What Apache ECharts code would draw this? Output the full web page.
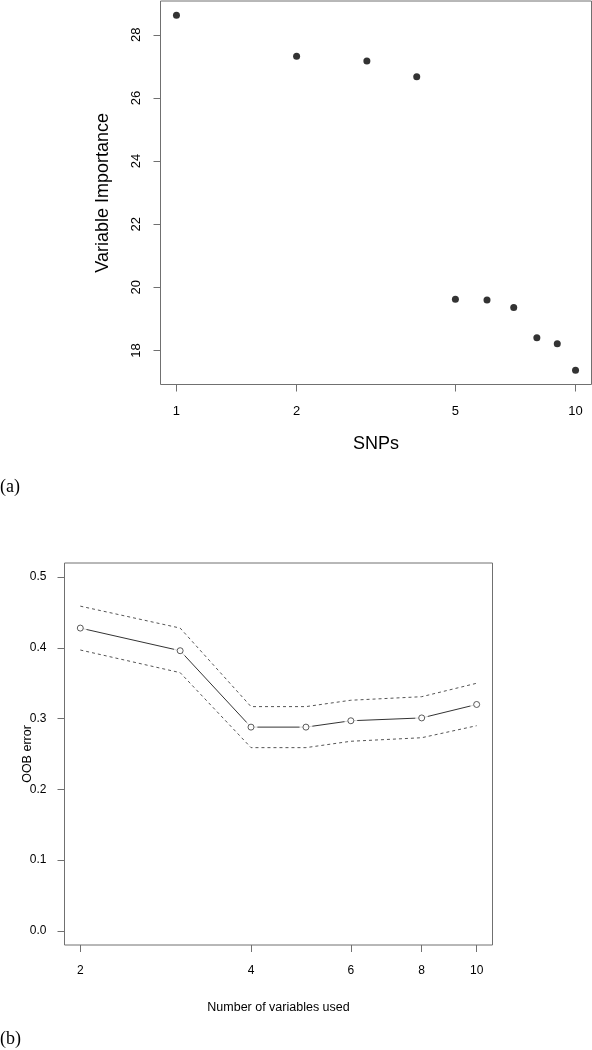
<!DOCTYPE html>
<html>
<head>
<meta charset="utf-8">
<script src="https://cdn.jsdelivr.net/npm/echarts@6/dist/echarts.min.js"></script>
<style>
html,body{margin:0;padding:0;background:#fff;}
#chart{width:592px;height:1050px;}
</style>
</head>
<body>
<div id="chart"></div>
<script>
// ---- Data (a): variable importance of SNPs ----
const snps = [1, 2, 3, 4, 5, 6, 7, 8, 9, 10];
const importance = [28.62, 27.32, 27.17, 26.67, 19.62, 19.60, 19.36, 18.40, 18.21, 17.37];
const snpTicks = [1, 2, 5, 10];
const importanceTicks = [18, 20, 22, 24, 26, 28];

// ---- Data (b): OOB error vs number of variables ----
const nVars = [2, 3, 4, 5, 6, 8, 10];
const oobMean  = [0.428, 0.396, 0.288, 0.288, 0.297, 0.301, 0.320];
const oobUpper = [0.459, 0.428, 0.317, 0.317, 0.326, 0.331, 0.350];
const oobLower = [0.397, 0.365, 0.259, 0.259, 0.268, 0.273, 0.290];
const nVarTicks = [2, 4, 6, 8, 10];
const oobTicks = [0, 0.1, 0.2, 0.3, 0.4, 0.5];

const pairs = (xs, ys) => xs.map((x, i) => [x, ys[i]]);

const FONT = '"Liberation Sans", Arial, Helvetica, sans-serif';
const FRAME = '#707070';

const chart = echarts.init(document.getElementById('chart'), null, {renderer: 'canvas'});

chart.setOption({
  animation: false,
  backgroundColor: '#fff',
  textStyle: {fontFamily: FONT},
  grid: [
    {left: 160.5, top: 1, width: 431, height: 383.5, show: true, borderColor: FRAME, borderWidth: 1, backgroundColor: 'transparent', containLabel: false},
    {left: 64.5, top: 563, width: 428, height: 382, show: true, borderColor: FRAME, borderWidth: 1, backgroundColor: 'transparent', containLabel: false}
  ],
  xAxis: [
    {
      gridIndex: 0, type: 'log', logBase: 10, min: 0.91201, max: 10.9648,
      axisLine: {show: false, onZero: false},
      splitLine: {show: false},
      axisTick: {show: true, customValues: snpTicks, length: 7, lineStyle: {color: FRAME}},
      axisLabel: {customValues: snpTicks, fontSize: 13, margin: 20, color: '#000', fontFamily: FONT},
      name: 'SNPs', nameLocation: 'middle', nameGap: 51, nameMoveOverlap: false,
      nameTextStyle: {fontSize: 18, color: '#000', fontFamily: FONT}
    },
    {
      gridIndex: 1, type: 'log', logBase: 10, min: 1.8757, max: 10.665,
      axisLine: {show: false, onZero: false},
      splitLine: {show: false},
      axisTick: {show: true, customValues: nVarTicks, length: 7, lineStyle: {color: FRAME}},
      axisLabel: {customValues: nVarTicks, fontSize: 12, margin: 20, color: '#000', fontFamily: FONT},
      name: 'Number of variables used', nameLocation: 'middle', nameGap: 56, nameMoveOverlap: false,
      nameTextStyle: {fontSize: 12.5, color: '#000', fontFamily: FONT}
    }
  ],
  yAxis: [
    {
      gridIndex: 0, type: 'value', min: 16.92, max: 29.07,
      axisLine: {show: false, onZero: false},
      splitLine: {show: false},
      axisTick: {show: true, customValues: importanceTicks, length: 7, lineStyle: {color: FRAME}},
      axisLabel: {customValues: importanceTicks, rotate: 90, fontSize: 13, margin: 18, color: '#000', fontFamily: FONT},
      name: 'Variable Importance', nameLocation: 'middle', nameGap: 48, nameMoveOverlap: false,
      nameTextStyle: {fontSize: 18, color: '#000', fontFamily: FONT}
    },
    {
      gridIndex: 1, type: 'value', min: -0.02, max: 0.52,
      axisLine: {show: false, onZero: false},
      splitLine: {show: false},
      axisTick: {show: true, customValues: oobTicks, length: 7, lineStyle: {color: FRAME}},
      axisLabel: {customValues: oobTicks, fontSize: 12, margin: 18, color: '#000', fontFamily: FONT,
                  formatter: v => v.toFixed(1)},
      name: 'OOB error', nameLocation: 'middle', nameGap: 30, nameMoveOverlap: false,
      nameTextStyle: {fontSize: 12.5, color: '#000', fontFamily: FONT}
    }
  ],
  series: [
    {
      type: 'scatter', xAxisIndex: 0, yAxisIndex: 0,
      data: pairs(snps, importance),
      symbol: 'circle', symbolSize: 7,
      itemStyle: {color: '#000'}
    },
    {
      type: 'line', xAxisIndex: 1, yAxisIndex: 1,
      data: pairs(nVars, oobUpper),
      showSymbol: false, symbol: 'none',
      lineStyle: {color: '#555', width: 1, type: [3, 3]}, z: 2
    },
    {
      type: 'line', xAxisIndex: 1, yAxisIndex: 1,
      data: pairs(nVars, oobLower),
      showSymbol: false, symbol: 'none',
      lineStyle: {color: '#555', width: 1, type: [3, 3]}, z: 2
    },
    {
      type: 'line', xAxisIndex: 1, yAxisIndex: 1,
      data: pairs(nVars, oobMean),
      showSymbol: false, symbol: 'none',
      lineStyle: {color: '#333', width: 1}, z: 2
    },
    {
      type: 'scatter', xAxisIndex: 1, yAxisIndex: 1,
      data: pairs(nVars, oobMean),
      symbol: 'circle', symbolSize: 13,
      itemStyle: {color: '#fff'}, z: 3, silent: true
    },
    {
      type: 'scatter', xAxisIndex: 1, yAxisIndex: 1,
      data: pairs(nVars, oobMean),
      symbol: 'circle', symbolSize: 6,
      itemStyle: {color: '#fff', borderColor: '#333', borderWidth: 1}, z: 4
    }
  ],
  graphic: [
    {type: 'text', left: 0, top: 478, style: {text: '(a)', fontSize: 18, fontFamily: '"Liberation Serif", "Times New Roman", serif', fill: '#000'}},
    {type: 'text', left: 0, top: 1030, style: {text: '(b)', fontSize: 18, fontFamily: '"Liberation Serif", "Times New Roman", serif', fill: '#000'}}
  ]
});
</script>
</body>
</html>
